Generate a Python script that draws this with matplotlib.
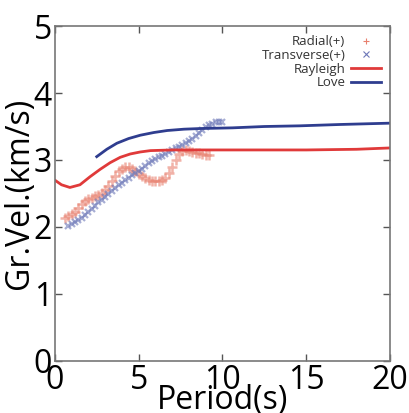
import matplotlib
matplotlib.use('Agg')
import matplotlib.pyplot as plt

plt.rcParams['font.family'] = ['Open Sans', 'DejaVu Sans']

# Rayleigh / Love model curves
ray_period = [0.0, 0.4, 0.9, 1.5, 2.1, 2.7, 3.3, 3.9, 4.5, 5.1, 5.7, 7.0, 9.0, 12.0, 15.0, 18.0, 20.0]
ray_vel = [2.70, 2.63, 2.59, 2.63, 2.75, 2.86, 2.96, 3.04, 3.09, 3.12, 3.14, 3.15, 3.15, 3.15, 3.15, 3.16, 3.18]

love_period = [2.5, 3.1, 3.7, 4.4, 5.1, 5.9, 6.7, 7.7, 8.7, 10.6, 12.5, 14.6, 17.0, 20.0]
love_vel = [3.05, 3.16, 3.25, 3.32, 3.37, 3.41, 3.44, 3.46, 3.47, 3.48, 3.50, 3.51, 3.53, 3.55]

# measured group velocities
rad_period = [0.6, 0.8, 1.0, 1.2, 1.4, 1.6, 1.8, 2.0, 2.2, 2.4, 2.6, 2.8, 3.0, 3.2, 3.4,
              3.6, 3.8, 4.0, 4.2, 4.4, 4.6, 4.8, 5.0, 5.2, 5.4, 5.6, 5.8, 6.0, 6.2, 6.4,
              6.6, 6.8, 7.0, 7.2, 7.4, 7.6, 7.8, 8.0, 8.2, 8.4, 8.6, 8.8, 9.0, 9.2]
rad_vel = [2.14, 2.16, 2.19, 2.23, 2.28, 2.34, 2.39, 2.42, 2.44, 2.46, 2.48, 2.50, 2.55, 2.61, 2.68,
           2.76, 2.83, 2.87, 2.89, 2.89, 2.87, 2.83, 2.79, 2.76, 2.73, 2.70, 2.68, 2.68, 2.68, 2.70,
           2.73, 2.80, 2.90, 3.00, 3.09, 3.14, 3.15, 3.14, 3.12, 3.11, 3.10, 3.09, 3.08, 3.07]

tra_period = [0.8, 1.0, 1.2, 1.4, 1.6, 1.8, 2.0, 2.2, 2.4, 2.6, 2.8, 3.0, 3.2, 3.4, 3.6, 3.8,
              4.0, 4.2, 4.4, 4.6, 4.8, 5.0, 5.2, 5.4, 5.6, 5.8, 6.0, 6.2, 6.4, 6.6, 6.8, 7.0,
              7.2, 7.4, 7.6, 7.8, 8.0, 8.2, 8.4, 8.6, 8.8, 9.0, 9.2, 9.4, 9.6, 9.8, 10.0]
tra_vel = [2.02, 2.04, 2.07, 2.10, 2.14, 2.18, 2.22, 2.27, 2.32, 2.37, 2.41, 2.45, 2.49, 2.53, 2.58, 2.62,
           2.66, 2.70, 2.73, 2.77, 2.80, 2.84, 2.87, 2.91, 2.95, 2.98, 3.01, 3.04, 3.06, 3.09, 3.12, 3.15,
           3.18, 3.20, 3.22, 3.25, 3.28, 3.31, 3.36, 3.41, 3.45, 3.49, 3.52, 3.54, 3.56, 3.57, 3.57]

fig = plt.figure(figsize=(4.09, 4.13), dpi=100)
ax = fig.add_axes([0.134, 0.126, 0.82, 0.811])

ax.plot(rad_period, rad_vel, '+', color='#e8806e', ms=6.5, mew=1.8, alpha=0.6, label='Radial(+)')
ax.plot(tra_period, tra_vel, 'x', color='#6d78b8', ms=5, mew=1.6, alpha=0.6, label='Transverse(+)')
ax.plot(ray_period, ray_vel, '-', color='#e03a3a', lw=2, label='Rayleigh')
ax.plot(love_period, love_vel, '-', color='#2f3d8f', lw=2, label='Love')

ax.set_xlim(0, 20)
ax.set_ylim(0, 5)
ax.set_xticks([0, 5, 10, 15, 20])
ax.set_yticks([0, 1, 2, 3, 4, 5])
ax.tick_params(direction='in', length=5, width=1, color='#555555', labelsize=23, pad=2,
               top=True, right=True)
for s in ax.spines.values():
    s.set_color('#777777')
    s.set_linewidth(1.2)

ax.set_xlabel('Period(s)', fontsize=23, labelpad=-9)
ax.set_ylabel('Gr.Vel.(km/s)', fontsize=23, labelpad=-2)

leg = ax.legend(loc='upper right', frameon=False, markerfirst=False, fontsize=9.5,
                labelspacing=0.05, handlelength=2.3, handletextpad=0.4,
                borderaxespad=0.3)
for t in leg.get_texts():
    t.set_color('#333333')
for h in leg.legend_handles[:2]:
    h.set_markersize(5)
    h.set_markeredgewidth(0.8)
    h.set_alpha(1.0)

plt.savefig('out.png', dpi=100)
